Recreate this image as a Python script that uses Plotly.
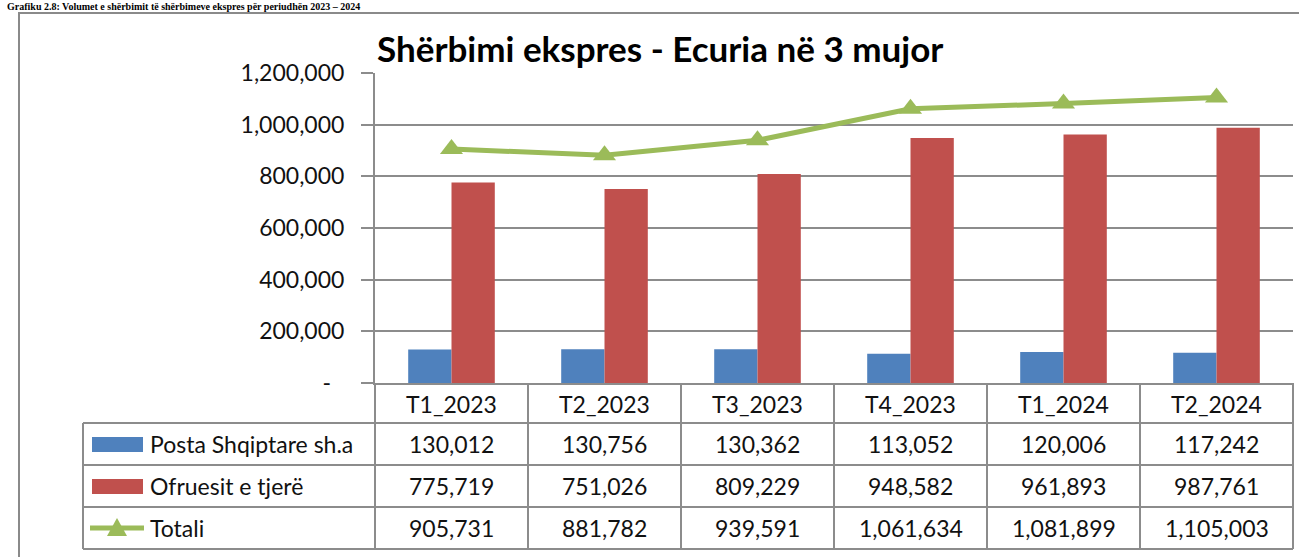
import plotly.graph_objects as go

# ---- data ----
categories = ["T1_2023", "T2_2023", "T3_2023", "T4_2023", "T1_2024", "T2_2024"]
series_names = ["Posta Shqiptare sh.a", "Ofruesit e tjerë", "Totali"]
posta = [130012, 130756, 130362, 113052, 120006, 117242]
ofruesit = [775719, 751026, 809229, 948582, 961893, 987761]
totali = [905731, 881782, 939591, 1061634, 1081899, 1105003]
ytick_vals = [0, 200000, 400000, 600000, 800000, 1000000, 1200000]
ytick_text = ["-<span style='color:rgba(0,0,0,0)'>0</span>", "200,000", "400,000", "600,000", "800,000",
              "1,000,000", "1,200,000"]
title_text = "Shërbimi ekspres - Ecuria në 3 mujor"
caption_text = "Grafiku 2.8: Volumet e shërbimit të shërbimeve ekspres për periudhën 2023 – 2024"

BLUE = "#4F81BD"
RED = "#C0504D"
GREEN = "#9BBB59"
GRID = "#8c8c8c"
FONT = "Lato"

W, H = 1299, 557
ML, MR, MT, MB = 375, 6, 73, 174
PW = W - ML - MR
PH = H - MT - MB


def px(x):
    return (x - ML) / PW


def py(y):
    return (H - MB - y) / PH


fig = go.Figure()
fig.add_trace(go.Bar(x=categories, y=posta, name=series_names[0], marker=dict(color=BLUE, line=dict(width=0)), hoverinfo="skip"))
fig.add_trace(go.Bar(x=categories, y=ofruesit, name=series_names[1], marker=dict(color=RED, line=dict(width=0)), hoverinfo="skip"))
fig.add_trace(go.Scatter(x=categories, y=totali, name=series_names[2], mode="lines+markers",
                         line=dict(color=GREEN, width=5),
                         marker=dict(symbol="triangle-up", size=20, color=GREEN), hoverinfo="skip"))

shapes = []
annotations = []

# outer frame
shapes.append(dict(type="rect", xref="paper", yref="paper", x0=px(19), x1=px(1330), y0=py(13), y1=py(620),
                   line=dict(color="#8a8a8a", width=2), fillcolor="rgba(0,0,0,0)", layer="below"))

# table lines
row_lines = [423, 465, 507, 549]
for yy in row_lines:
    shapes.append(dict(type="line", xref="paper", yref="paper", x0=px(83), x1=1, y0=py(yy), y1=py(yy),
                       line=dict(color=GRID, width=2)))
shapes.append(dict(type="line", xref="paper", yref="paper", x0=0, x1=0, y0=0, y1=py(549), line=dict(color=GRID, width=2)))
shapes.append(dict(type="line", xref="paper", yref="paper", x0=1, x1=1, y0=0, y1=py(549), line=dict(color=GRID, width=2)))
shapes.append(dict(type="line", xref="paper", yref="paper", x0=px(83), x1=px(83), y0=py(423), y1=py(549), line=dict(color=GRID, width=2)))
for i in range(len(categories) - 1):
    shapes.append(dict(type="line", xref="x", yref="paper", x0=i + 0.5, x1=i + 0.5, y0=0, y1=py(549),
                       line=dict(color=GRID, width=2)))

# table header & values
tfont = dict(family=FONT, size=23, color="#111111")
row_centers = [444, 486, 528]
for i, c in enumerate(categories):
    annotations.append(dict(x=c, xref="x", y=py(404), yref="paper", text=c, showarrow=False, font=tfont,
                            xanchor="center", yanchor="middle"))
    for vals, yc in zip([posta, ofruesit, totali], row_centers):
        annotations.append(dict(x=c, xref="x", y=py(yc), yref="paper", text=f"{vals[i]:,}", showarrow=False,
                                font=tfont, xanchor="center", yanchor="middle"))

# legend keys in table
for name, yc in zip(series_names, row_centers):
    annotations.append(dict(x=px(148), xref="paper", y=py(yc), yref="paper", text=name, showarrow=False,
                            font=tfont, xanchor="left", yanchor="middle"))
shapes.append(dict(type="rect", xref="paper", yref="paper", x0=px(92), x1=px(143), y0=py(437), y1=py(452),
                   fillcolor=BLUE, line=dict(width=0)))
shapes.append(dict(type="rect", xref="paper", yref="paper", x0=px(92), x1=px(143), y0=py(479), y1=py(494),
                   fillcolor=RED, line=dict(width=0)))
shapes.append(dict(type="line", xref="paper", yref="paper", x0=px(90), x1=px(144), y0=py(528), y1=py(528),
                   line=dict(color=GREEN, width=5)))
shapes.append(dict(type="path", xref="paper", yref="paper",
                   path=f"M {px(107)},{py(536)} L {px(127)},{py(536)} L {px(117)},{py(518)} Z",
                   fillcolor=GREEN, line=dict(width=0)))

# title
annotations.append(dict(x=px(660), xref="paper", y=py(48), yref="paper", text=f"<b>{title_text}</b>",
                        showarrow=False, font=dict(family=FONT, size=35, color="#000000"),
                        xanchor="center", yanchor="middle"))
# caption (small, in the top strip)
annotations.append(dict(x=px(6), xref="paper", y=py(0), yref="paper", text=f"<b>{caption_text}</b>",
                        showarrow=False, font=dict(family="Liberation Serif", size=10, color="#000000"),
                        xanchor="left", yanchor="top", borderpad=0))

fig.update_layout(
    width=W, height=H,
    margin=dict(l=ML, r=MR, t=MT, b=MB),
    paper_bgcolor="white", plot_bgcolor="white",
    barmode="group", bargap=0.434, bargroupgap=0,
    showlegend=False,
    shapes=shapes, annotations=annotations,
    font=dict(family=FONT, size=23, color="#111111"),
)
fig.update_xaxes(type="category", range=[-0.5, 5.5], showticklabels=False, ticks="",
                 showline=True, linecolor=GRID, linewidth=2, showgrid=False, zeroline=False)
fig.update_yaxes(range=[0, 1200000], tickvals=ytick_vals, ticktext=ytick_text,
                 showgrid=True, gridcolor=GRID, gridwidth=2, zeroline=False,
                 showline=True, linecolor=GRID, linewidth=2,
                 ticks="outside", ticklen=12, tickcolor=GRID, tickwidth=2, ticklabelstandoff=12,
                 tickfont=dict(family=FONT, size=23, color="#111111"))

fig.write_html("out.html")
